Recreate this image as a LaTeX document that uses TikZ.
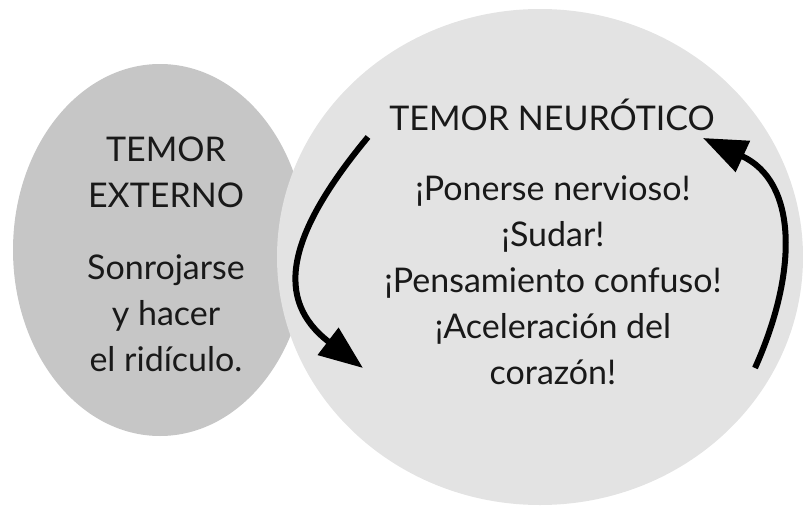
\documentclass[tikz,border=0pt]{standalone}
\usepackage{fontspec}
\setmainfont{Lato}
\usetikzlibrary{shapes.geometric,arrows.meta}
\definecolor{extgray}{RGB}{198,198,198}
\definecolor{neugray}{RGB}{227,227,227}
\definecolor{txt}{RGB}{25,25,25}
\tikzset{
  blob/.style={ellipse, inner sep=0pt, draw=none},
  label/.style={text=txt, align=center, font=\fontsize{34}{46}\selectfont, inner sep=0pt},
  cyclearrow/.style={line width=6pt, draw=black, -{Triangle[length=44pt,width=33pt]}}
}
\begin{document}
\begin{tikzpicture}[x=1pt,y=1pt]
\useasboundingbox (0,0) rectangle (803,-506);
\node[blob, fill=extgray, minimum width=294pt, minimum height=372pt] (ext) at (160,-250) {};
\node[blob, fill=neugray, minimum width=526pt, minimum height=496pt] (neu) at (540,-257) {};
\node[label] (exttitle) at (166,-172) {TEMOR\\EXTERNO};
\node[label] (extbody) at (166,-313) {Sonrojarse\\y hacer\\el ridículo.};
\node[label] (neutitle) at (552,-115) {TEMOR NEURÓTICO};
\node[label] (neubody) at (553,-280) {¡Ponerse nervioso!\\¡Sudar!\\¡Pensamiento confuso!\\¡Aceleración del\\corazón!};
\coordinate (la) at (368,-137);
\coordinate (lb) at (363,-368);
\coordinate (ra) at (755,-368);
\coordinate (rb) at (703,-138);
\draw[cyclearrow] (la) .. controls (286,-236) and (274,-300) .. (lb);
\draw[cyclearrow] (ra) .. controls (798,-272) and (798,-182) .. (rb);
\end{tikzpicture}
\end{document}
